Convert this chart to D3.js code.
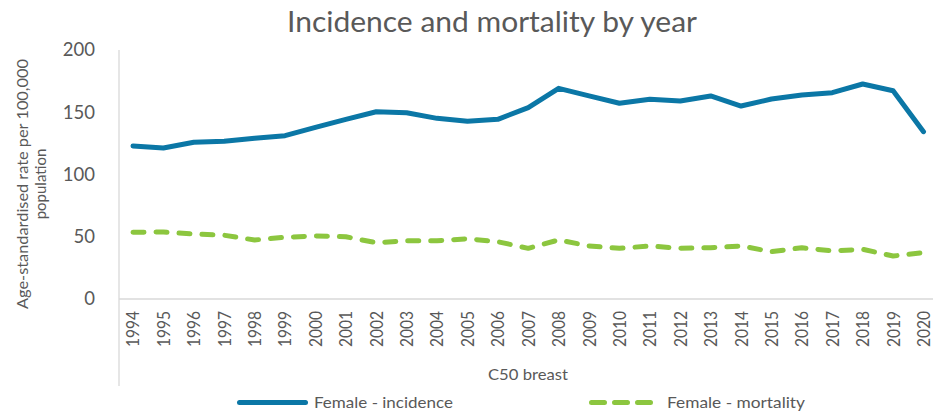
<!DOCTYPE html>
<html><head><meta charset="utf-8">
<script src="https://cdn.jsdelivr.net/npm/d3@7"></script>
<style>
body{margin:0;background:#fff}
text{font-family:Lato,"Open Sans",sans-serif;fill:#595959}
</style>
</head><body><svg id="c" width="933" height="414"></svg>
<script>
const years = ["1994","1995","1996","1997","1998","1999","2000","2001","2002","2003","2004","2005","2006","2007","2008","2009","2010","2011","2012","2013","2014","2015","2016","2017","2018","2019","2020"];
const incidence = [122.9,121.3,125.9,126.7,129.1,131.2,137.9,144.3,150.4,149.6,145.1,142.7,144.3,153.7,169.2,163.1,157.2,160.4,159.0,163.1,155.0,160.6,163.9,165.7,172.7,167.3,134.4];
const mortality = [53.6,53.8,52.2,51.2,47.4,49.6,50.6,50.0,45.2,46.8,46.8,48.4,46.0,40.7,47.4,42.6,40.7,42.6,40.7,41.2,42.6,38.0,41.2,38.6,39.9,34.5,37.2];
const yTicks = [0,50,100,150,200];
const seriesNames = ["Female - incidence","Female - mortality"];
const titleText = "Incidence and mortality by year";
const yTitleLines = ["Age-standardised rate per 100,000","population"];
const groupLabel = "C50 breast";

const svg = d3.select("#c");
svg.append("rect").attr("width",933).attr("height",414).attr("fill","#fff");

const x = d3.scalePoint().domain(years).range([133, 923.5]);
const y = d3.scaleLinear().domain([0,200]).range([299,50]);
const blue = "#0b77a6", green = "#8cc63f", axisCol = "#d9d9d9";

// title
svg.append("text").attr("x",492).attr("y",32).attr("text-anchor","middle")
  .attr("font-size",28).attr("textLength",410).attr("lengthAdjust","spacingAndGlyphs")
  .text(titleText);

// y axis
const gy = svg.append("g").attr("transform","translate(119,0)")
  .call(d3.axisLeft(y).tickValues(yTicks).tickSize(0).tickPadding(24));
gy.select(".domain").remove();
gy.selectAll("text").attr("font-size",18.5).style("font-family","Lato,sans-serif").attr("fill","#595959");
svg.append("line").attr("x1",119).attr("x2",119).attr("y1",50).attr("y2",386)
  .attr("stroke",axisCol).attr("stroke-width",1.3);

// x axis
const gx = svg.append("g").attr("transform","translate(0,299)")
  .call(d3.axisBottom(x).tickSize(0));
gx.select(".domain").remove();
gx.selectAll("text")
  .attr("transform","rotate(-90)").attr("x",-12).attr("y",0).attr("dy","0.36em")
  .attr("text-anchor","end").attr("font-size",16.5)
  .attr("textLength",36).attr("lengthAdjust","spacingAndGlyphs")
  .style("font-family","Lato,sans-serif").attr("fill","#595959");
svg.append("line").attr("x1",119).attr("x2",933).attr("y1",299).attr("y2",299)
  .attr("stroke",axisCol).attr("stroke-width",1.5);

// group label
svg.append("text").attr("x",528).attr("y",380).attr("text-anchor","middle")
  .attr("font-size",16).attr("textLength",80).attr("lengthAdjust","spacingAndGlyphs")
  .text(groupLabel);

// y title
const yt = svg.append("text").attr("transform","translate(0,184) rotate(-90)")
  .attr("text-anchor","middle").attr("font-size",15);
yt.append("tspan").attr("x",0).attr("y",28).attr("textLength",250).attr("lengthAdjust","spacingAndGlyphs").text(yTitleLines[0]);
yt.append("tspan").attr("x",0).attr("y",46).text(yTitleLines[1]);

// lines
const line = d3.line().x((d,i)=>x(years[i])).y(d=>y(d));
svg.append("path").datum(incidence).attr("d",line).attr("fill","none")
  .attr("stroke",blue).attr("stroke-width",5).attr("stroke-linejoin","round").attr("stroke-linecap","round");
svg.append("path").datum(mortality).attr("d",line).attr("fill","none")
  .attr("stroke",green).attr("stroke-width",5).attr("stroke-linejoin","round").attr("stroke-linecap","round")
  .attr("stroke-dasharray","11,12");

// legend
svg.append("line").attr("x1",239.5).attr("x2",305.5).attr("y1",402.5).attr("y2",402.5)
  .attr("stroke",blue).attr("stroke-width",5).attr("stroke-linecap","round");
svg.append("text").attr("x",314).attr("y",407.5).attr("font-size",16)
  .attr("textLength",139).attr("lengthAdjust","spacingAndGlyphs").text(seriesNames[0]);
svg.append("line").attr("x1",591.5).attr("x2",650.5).attr("y1",402.5).attr("y2",402.5)
  .attr("stroke",green).attr("stroke-width",5).attr("stroke-linecap","round").attr("stroke-dasharray","13,10");
svg.append("text").attr("x",667).attr("y",407.5).attr("font-size",16)
  .attr("textLength",138).attr("lengthAdjust","spacingAndGlyphs").text(seriesNames[1]);
</script>
</body></html>
